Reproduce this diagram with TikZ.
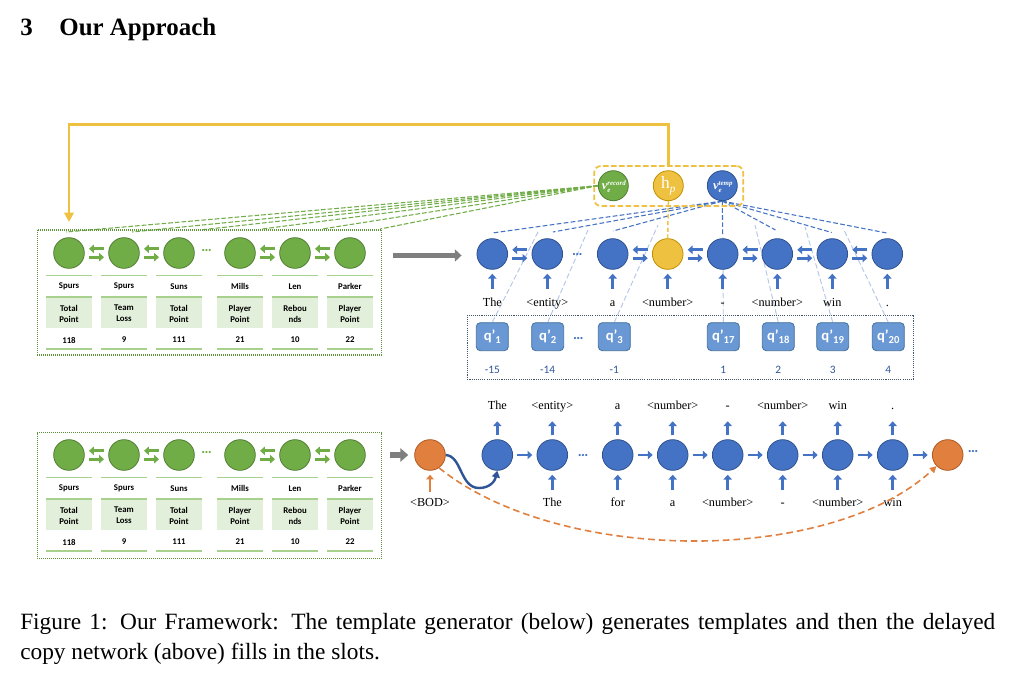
\documentclass[tikz,border=0pt]{standalone}
\usepackage{fontspec}
\setmainfont{Liberation Serif}
\newfontfamily\calib{Carlito}
\usetikzlibrary{arrows.meta,calc}
\pgfdeclarelayer{background}
\pgfsetlayers{background,main}
\definecolor{gfill}{HTML}{70AD47}
\definecolor{gline}{HTML}{507E32}
\definecolor{glight}{HTML}{E2EFDA}
\definecolor{grule}{HTML}{A9D18E}
\definecolor{bfill}{HTML}{4472C4}
\definecolor{bline}{HTML}{2F528F}
\definecolor{yfill}{HTML}{EFC140}
\definecolor{yline}{HTML}{BF9000}
\definecolor{ofill}{HTML}{E07F3E}
\definecolor{oline}{HTML}{AE5A21}
\definecolor{qfill}{HTML}{6A98D4}
\definecolor{qline}{HTML}{41719C}
\definecolor{lblue}{HTML}{B4C7E7}
\definecolor{numblue}{HTML}{2F5597}
\definecolor{arrgray}{HTML}{7F7F7F}
\definecolor{curvblue}{HTML}{2F5597}
\definecolor{boxgray}{HTML}{44546A}
\tikzset{
 circ/.style={circle,minimum size=23pt,inner sep=0pt,line width=0.6pt},
 gc/.style={circ,fill=gfill,draw=gline},
 bc/.style={circ,fill=bfill,draw=bline},
 yc/.style={circ,fill=yfill,draw=yline},
 oc/.style={circ,fill=ofill,draw=oline},
 smallc/.style={circle,minimum size=22.5pt,inner sep=0pt,line width=0.6pt},
 lbl/.style={inner sep=0pt,text=white},
 gbox/.style={draw=gfill!85!black,line width=0.8pt,dash pattern=on 0.8pt off 0.7pt,minimum width=258.3pt,inner sep=0pt},
 tab/.style={font=\calib\bfseries\fontsize{6.6}{8.2}\selectfont,align=center,inner sep=0pt},
 rulel/.style={draw=grule,line width=1.1pt},
 dblg/.style={draw=gfill,line width=2.2pt,-{Triangle[length=3.6pt,width=6.2pt]}},
 dblb/.style={draw=bfill,line width=2.2pt,-{Triangle[length=3.6pt,width=6.2pt]}},
 uparr/.style={draw=bfill,line width=2.2pt,-{Triangle[length=3.6pt,width=6.2pt]}},
 word/.style={font=\fontsize{9.2}{10}\selectfont,anchor=base,inner sep=0pt},
 qbox/.style={rectangle,rounded corners=3pt,fill=qfill,draw=qline,line width=0.6pt,minimum width=24pt,minimum height=21pt,inner sep=0pt,text=white,font=\calib\bfseries\fontsize{11}{12}\selectfont},
 qnum/.style={font=\calib\fontsize{8.5}{10}\selectfont,text=numblue,anchor=base,inner sep=0pt},
 dotsg/.style={font=\calib\bfseries\fontsize{11}{12}\selectfont,inner sep=0pt,text=gfill},
 dotsb/.style={font=\calib\bfseries\fontsize{11}{12}\selectfont,inner sep=0pt,text=bfill},
 gdash/.style={draw=gfill,line width=0.8pt,dash pattern=on 3.5pt off 1.5pt},
 bdash/.style={draw=bfill,line width=0.8pt,dash pattern=on 3.5pt off 1.8pt},
 ldash/.style={draw=lblue,line width=0.7pt,dash pattern=on 4pt off 2pt},
}
\newcommand\tinyf{\fontsize{5.2}{6}\selectfont}
\newcommand\rectable[2]{%
 \foreach \x/\n/\a/\b/\v [count=\i] in {69/Spurs/Total/Point/118,124/Spurs/Team/Loss/9,179/Suns/Total/Point/111,240/Mills/Player/Point/21,295/Len/Rebou/nds/10,350/Parker/Player/Point/22}{
   \node[gc] (#2\i) at (\x,253+#1) {};
   \draw[rulel] (\x-23,275.5+#1) -- (\x+23,275.5+#1);
   \node[tab] at (\x,286.5+#1) {\n};
   \fill[glight] (\x-23,297+#1) rectangle (\x+23,328+#1);
   \draw[rulel] (\x-23,297+#1) -- (\x+23,297+#1);
   \node[tab] at (\x,313.5+#1) {\a\\\b};
   \node[tab] at (\x,340+#1) {\v};
   \draw[rulel] (\x-23,349+#1) -- (\x+23,349+#1);
 }
 \foreach \p/\q in {1/2,2/3,4/5,5/6}{
   \draw[dblg] ($(#2\p)!0.5!(#2\q)+(7.5,-4.2)$) -- ++(-15,0);
   \draw[dblg] ($(#2\p)!0.5!(#2\q)+(-7.5,4.2)$) -- ++(15,0);
 }
 \node[dotsg] at (206.7,251+#1) {…};
}
\begin{document}
\begin{tikzpicture}[x=0.75pt,y=-0.75pt]
\useasboundingbox (0,0) rectangle (1018,685);
\begin{pgfonlayer}{background}
\fill[white] (0,0) rectangle (1018,685);
\end{pgfonlayer}

% title
\node[anchor=base west,inner sep=0pt,font=\bfseries\fontsize{18.7}{22}\selectfont] (title) at (20,36) {3\hspace{20pt}Our Approach};

% record boxes
\node[gbox,minimum height=93.75pt] (tbox) at (209.5,292.5) {};
\node[gbox,minimum height=94.5pt] (bbox) at (209.5,495.5) {};
\rectable{0}{gt}
\rectable{202}{gb}

% yellow group box
\node[draw=yfill,line width=1.3pt,dash pattern=on 4pt off 2pt,rounded corners=5pt,minimum width=111.75pt,minimum height=30pt,inner sep=0pt] (ybox) at (668.7,186) {};
\node[smallc,fill=gfill,draw=gline] (rec) at (613.3,185.7) {};
\node[smallc,fill=yfill,draw=yline] (hp) at (668.3,185.7) {};
\node[smallc,fill=bfill,draw=bline] (temp) at (722.3,185.7) {};
\node[lbl,font=\bfseries\itshape\fontsize{9.5}{10}\selectfont] (recl) at ($(rec)+(0.5,1)$) {v\rlap{\raisebox{-2pt}{\tinyf e}}\raisebox{3.2pt}{\tinyf record}};
\node[lbl,font=\fontsize{13}{14}\selectfont] (hpl) at (hp) {h\raisebox{-2.4pt}{\fontsize{8.5}{9}\selectfont\itshape p}};
\node[lbl,font=\bfseries\itshape\fontsize{9.5}{10}\selectfont] (templ) at ($(temp)+(0.5,1)$) {v\rlap{\raisebox{-2pt}{\tinyf e}}\raisebox{3.2pt}{\tinyf temp}};

% top decoder row
\foreach \x/\i in {492.3/1,547.3/2,612.7/3,722.7/5,777.3/6,832.3/7,887.3/8}{
  \node[bc] (bt\i) at (\x,254) {};
}
\node[yc] (bt4) at (667.7,254) {};
\node[dotsb] at (577.3,255) {…};
\foreach \x/\w [count=\i] in {492.3/The,547.3/<entity>,612.7/a,667.7/<number>,722.7/-,777.3/<number>,832.3/win,887.3/.}{
  \node[word] (wt\i) at (\x,306) {\w};
  \draw[uparr] ($(bt\i.south)+(0,19)$) -- ($(bt\i.south)+(0,4)$);
}
\foreach \p/\q in {1/2,3/4,4/5,5/6,6/7,7/8}{
  \draw[dblb] ($(bt\p)!0.5!(bt\q)+(7.5,-4.2)$) -- ++(-15,0);
  \draw[dblb] ($(bt\p)!0.5!(bt\q)+(-7.5,4.2)$) -- ++(15,0);
}

% q' boxes
\node[draw=boxgray,line width=0.7pt,dash pattern=on 0.8pt off 0.8pt,minimum width=334.5pt,minimum height=48pt,inner sep=0pt] (qgroup) at (690.3,347) {};
\foreach \x/\s/\v [count=\i] in {492.3/1/-15,547.7/2/-14,614.3/3/-1,723.3/17/1,778.3/18/2,832.7/19/3,888.3/20/4}{
  \node[qbox] (q\i) at (\x,336.7) {q’\raisebox{-2pt}{\fontsize{8}{8}\selectfont\s}};
  \node[qnum] (n\i) at (\x,373) {\v};
}
\node[dotsb] at (578.3,339) {…};

% coordinates for dashed lines
\foreach \x/\y [count=\i] in {539/230,588/230,658/225,723/236,755/225,805/227,843/228}{
  \coordinate (l\i) at (\x,\y);
}
\foreach \x/\y [count=\i] in {492.3/233,553/232,613/231,722.7/236,775.5/230,831.7/232.5,886.7/233}{
  \coordinate (t\i) at (\x,\y);
}
\foreach \x/\y [count=\i] in {66/232,132/232,200/230,262/229,322/229,380/229}{
  \coordinate (g\i) at (\x,\y);
}
\coordinate (ytip) at (69,222);

% bottom template generator row
\node[oc] (bb0) at (430,455) {};
\foreach \x [count=\i] in {497.3,552.3,617.7,672.7,727.7,782.7,837.7,892.7}{
  \node[bc] (bb\i) at (\x,455) {};
  \draw[uparr] ($(bb\i.north)+(0,-4)$) -- ($(bb\i.north)+(0,-18)$);
}
\node[oc] (bb9) at (947.7,455) {};
\node[dotsb] at (583,456) {…};
\node[dotsb] at (973,452) {…};
\foreach \w [count=\i] in {The,<entity>,a,<number>,-,<number>,win,.}{
  \node[word] (wa\i) at ($(bb\i)+(0,-45.5)$) {\w};
}
\foreach \w [count=\j from 2] in {The,for,a,<number>,-,<number>,win}{
  \node[word] (wb\j) at ($(bb\j)+(0,51)$) {\w};
  \draw[uparr] ($(bb\j.south)+(0,19)$) -- ($(bb\j.south)+(0,4)$);
}
\node[word] (bod) at ($(bb0)+(0,51)$) {<BOD>};
\draw[draw=ofill,line width=1.5pt,-{Triangle[length=3.4pt,width=5.5pt]}] ($(bb0.south)+(0,21)$) -- ($(bb0.south)+(0,4)$);
\foreach \p/\q in {1/2,3/4,4/5,5/6,6/7,7/8,8/9}{
  \draw[dblb] ($(bb\p)!0.5!(bb\q)+(-7.5,0)$) -- ++(15,0);
}

\begin{pgfonlayer}{background}
\foreach \i in {1,...,7}{
  \draw[ldash] (q\i.north) -- (l\i);
}
\foreach \i in {1,...,7}{
  \draw[bdash] (temp.south) -- (t\i);
}
\foreach \i in {1,...,6}{
  \draw[gdash] (rec.west) -- (g\i);
}
\end{pgfonlayer}

% yellow connectors
\draw[draw=yfill,line width=1.1pt,dash pattern=on 3pt off 2pt] (hp.south) -- (bt4.north);
\draw[draw=yfill,line width=2.2pt,-{Triangle[length=7pt,width=7pt]}] (ybox.north -| hp.center) -- ++(0,-41) -| (ytip);

% gray arrows
\draw[draw=arrgray,line width=3.6pt,-{Triangle[length=5pt,width=9pt]}] ($(tbox.east |- bt1)+(11,1.5)$) -- ($(bt1.west)+(-15,1.5)$);
\draw[draw=arrgray,line width=5pt,-{Triangle[length=6pt,width=10pt]}] ($(bbox.east |- bb0)+(8,0)$) -- ($(bb0.west)+(-6,0)$);

% curved arrow from BOD
\draw[draw=curvblue,line width=1.8pt,-{Triangle[length=5pt,width=6pt]}] (bb0.east) .. controls (462,456) and (460,488) .. (479,488) .. controls (490,488) and (495,481) .. (bb1.south);
% orange dashed arc
\draw[draw=ofill,line width=1.2pt,dash pattern=on 5pt off 3pt,-{Triangle[length=5pt,width=5pt]}] (bb0.-55) .. controls (560,565) and (830,565) .. (bb9.225);

% caption
\node[anchor=base west,inner sep=0pt,font=\fontsize{17.5}{22.5}\selectfont] (cap1) at (20,629) {\makebox[731.25pt][s]{Figure 1: Our Framework: The template generator (below) generates templates and then the delayed}};
\node[anchor=base west,inner sep=0pt,font=\fontsize{17.5}{22.5}\selectfont] (cap2) at (20,659) {copy network (above) fills in the slots.};
\end{tikzpicture}
\end{document}
